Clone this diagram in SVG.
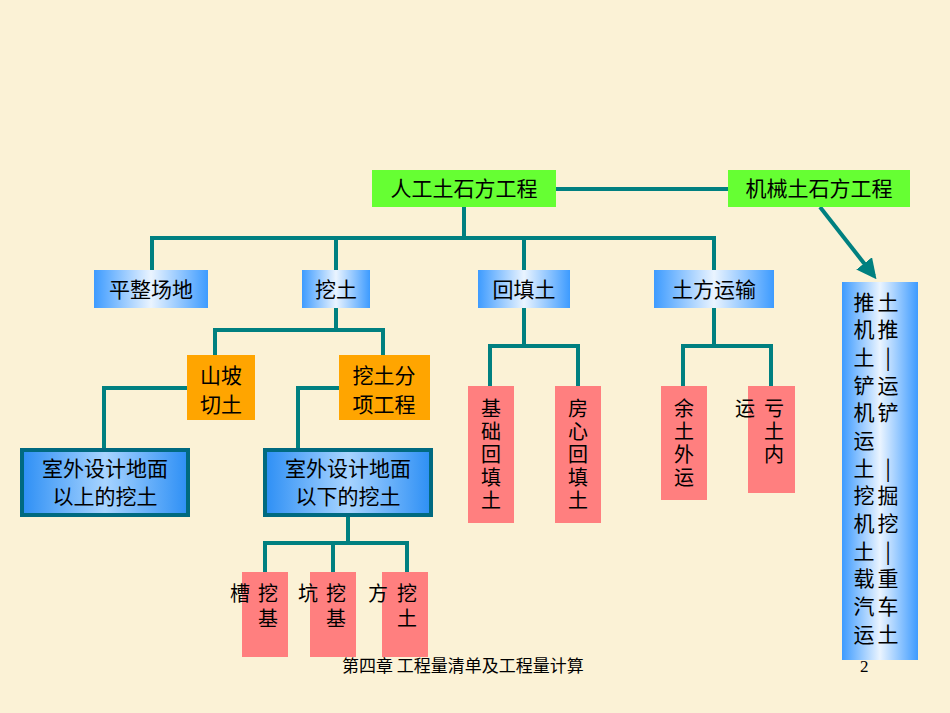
<svg xmlns="http://www.w3.org/2000/svg" width="950" height="713" viewBox="0 0 950 713">
<defs>
<linearGradient id="bg" x1="0" y1="0" x2="1" y2="0"><stop offset="0" stop-color="#3d9bff"/><stop offset="0.5" stop-color="#eaf4ff"/><stop offset="1" stop-color="#3d9bff"/></linearGradient>
<linearGradient id="bgd" x1="0" y1="0" x2="1" y2="0"><stop offset="0" stop-color="#2d8ff5"/><stop offset="0.5" stop-color="#a8d4ff"/><stop offset="1" stop-color="#2d8ff5"/></linearGradient>
<marker id="ar" markerWidth="5" markerHeight="5" refX="4" refY="2.5" orient="auto" markerUnits="strokeWidth"><path d="M0,0 L5,2.5 L0,5 z" fill="#008080"/></marker>
<style>
text{font-family:"Noto Sans CJK SC","Liberation Serif",serif;font-size:21px;fill:#000}
.v text{font-size:20px}
.g{fill:#66ff33}
.b{fill:url(#bg)}
.o{fill:#ffa500}
.d{fill:url(#bgd);stroke:#006a80;stroke-width:4}
.p{fill:#ff7f7f}
.c path,.c line{stroke:#008080;stroke-width:4;fill:none}
</style>
</defs>
<rect width="950" height="713" fill="#fbf2d6"/>
<g class="c" id="connectors">
<line x1="556" y1="189" x2="728" y2="189"/>
<line x1="820" y1="207" x2="874" y2="276" marker-end="url(#ar)" stroke-width="3"/>
<path d="M464,207V238M152,270V238H714V270M336,238V270M524,238V270"/>
<path d="M336,308V330M215,355V330H383V355"/>
<path d="M187,388H104V450M339,388H298V450"/>
<path d="M348,515V543M265,572V543H407V572M333,543V572"/>
<path d="M524,308V346M490,386V346H578V386"/>
<path d="M714,308V346M683,386V346H771V386"/>
</g>
<g id="n1"><rect class="g" x="372" y="170" width="184" height="37"/><text x="464" y="196" text-anchor="middle">人工土石方工程</text></g>
<g id="n2"><rect class="g" x="728" y="170" width="182" height="37"/><text x="819" y="196" text-anchor="middle">机械土石方工程</text></g>
<g id="n3"><rect class="b" x="94" y="270" width="114" height="38"/><text x="151" y="297" text-anchor="middle">平整场地</text></g>
<g id="n4"><rect class="b" x="302" y="270" width="68" height="38"/><text x="336" y="297" text-anchor="middle">挖土</text></g>
<g id="n5"><rect class="b" x="478" y="270" width="92" height="38"/><text x="524" y="297" text-anchor="middle">回填土</text></g>
<g id="n6"><rect class="b" x="654" y="270" width="120" height="38"/><text x="714" y="297" text-anchor="middle">土方运输</text></g>
<g id="n7"><rect class="o" x="187" y="355" width="68" height="65"/><text x="221" y="383" text-anchor="middle">山坡</text><text x="221" y="412" text-anchor="middle">切土</text></g>
<g id="n8"><rect class="o" x="339" y="355" width="91" height="65"/><text x="384" y="383" text-anchor="middle">挖土分</text><text x="384" y="412" text-anchor="middle">项工程</text></g>
<g id="n9"><rect class="d" x="22" y="450" width="166" height="65"/><text x="105" y="476" text-anchor="middle">室外设计地面</text><text x="105" y="504" text-anchor="middle">以上的挖土</text></g>
<g id="n10"><rect class="d" x="265" y="450" width="166" height="65"/><text x="348" y="476" text-anchor="middle">室外设计地面</text><text x="348" y="504" text-anchor="middle">以下的挖土</text></g>
<g class="v">
<g id="n11"><rect class="p" x="242" y="572" width="46" height="85"/><text x="230" y="601">槽</text><text x="258" y="601">挖</text><text x="258" y="626">基</text></g>
<g id="n12"><rect class="p" x="310" y="572" width="46" height="85"/><text x="298" y="601">坑</text><text x="326" y="601">挖</text><text x="326" y="626">基</text></g>
<g id="n13"><rect class="p" x="382" y="572" width="46" height="85"/><text x="368" y="601">方</text><text x="397" y="601">挖</text><text x="397" y="626">土</text></g>
<g id="n14"><rect class="p" x="468" y="386" width="46" height="137"/><text x="491" y="416" text-anchor="middle">基</text><text x="491" y="439" text-anchor="middle">础</text><text x="491" y="462" text-anchor="middle">回</text><text x="491" y="485" text-anchor="middle">填</text><text x="491" y="508" text-anchor="middle">土</text></g>
<g id="n15"><rect class="p" x="555" y="386" width="46" height="137"/><text x="578" y="416" text-anchor="middle">房</text><text x="578" y="439" text-anchor="middle">心</text><text x="578" y="462" text-anchor="middle">回</text><text x="578" y="485" text-anchor="middle">填</text><text x="578" y="508" text-anchor="middle">土</text></g>
<g id="n16"><rect class="p" x="661" y="386" width="46" height="114"/><text x="684" y="416" text-anchor="middle">余</text><text x="684" y="439" text-anchor="middle">土</text><text x="684" y="462" text-anchor="middle">外</text><text x="684" y="485" text-anchor="middle">运</text></g>
<g id="n17"><rect class="p" x="748" y="386" width="47" height="107"/><text x="735" y="416">运</text><text x="764" y="416">亏</text><text x="764" y="439">土</text><text x="764" y="462">内</text></g>
</g>
<g id="n18"><rect class="b" x="842" y="282" width="76" height="378"/>
<g text-anchor="middle">
<text x="864" y="310">推</text><text x="888" y="310">土</text>
<text x="864" y="337">机</text><text x="888" y="337">推</text>
<text x="864" y="365">土</text><text x="888" y="365">|</text>
<text x="864" y="393">铲</text><text x="888" y="393">运</text>
<text x="864" y="420">机</text><text x="888" y="420">铲</text>
<text x="864" y="448">运</text>
<text x="864" y="476">土</text><text x="888" y="476">|</text>
<text x="864" y="503">挖</text><text x="888" y="503">掘</text>
<text x="864" y="531">机</text><text x="888" y="531">挖</text>
<text x="864" y="559">土</text><text x="888" y="559">|</text>
<text x="864" y="586">载</text><text x="888" y="586">重</text>
<text x="864" y="614">汽</text><text x="888" y="614">车</text>
<text x="864" y="642">运</text><text x="888" y="642">土</text>
</g></g>
<text x="342" y="672" style="font-size:17px">第四章  工程量清单及工程量计算</text>
<text x="860" y="672" style="font-size:17px;font-family:'Liberation Serif',serif">2</text>
</svg>
